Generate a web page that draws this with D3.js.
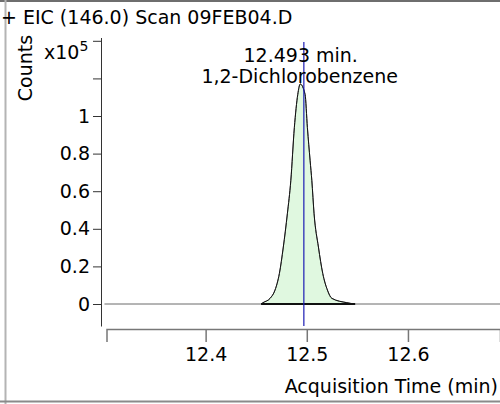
<!DOCTYPE html>
<html>
<head>
<meta charset="utf-8">
<script src="https://cdn.jsdelivr.net/npm/d3@7"></script>
<style>
  html, body { margin: 0; padding: 0; background: #fff; }
  svg { display: block; font-family: "DejaVu Sans", Verdana, sans-serif; }
</style>
</head>
<body>
<svg id="chart" width="500" height="404"></svg>
<script>
// ---------- data ----------
const titleText = "+ EIC (146.0) Scan 09FEB04.D";
const yAxisTitle = "Counts";
const yExponent = "5";
const xAxisTitle = "Acquisition Time (min)";
const xTickValues = [12.4, 12.5, 12.6];
const yTickValues = [0, 0.2, 0.4, 0.6, 0.8, 1, 1.2, 1.4];
const yTickLabels = ["0", "0.2", "0.4", "0.6", "0.8", "1", "", ""];
const xDomain = [12.302, 12.691];
const yDomain = [-0.117, 1.4176];

// trace (time in min, counts x10^5)
const traceTime  = [12.300, 12.4548, 12.4567, 12.4637, 12.4686, 12.4729, 12.4768, 12.4808, 12.4842, 12.4877, 12.4911, 12.4935, 12.4983, 12.5006, 12.5033, 12.5050, 12.5072, 12.5115, 12.5158, 12.5204, 12.5248, 12.5396, 12.5478, 12.691];
const traceCount = [0,      0,       0.007,   0.030,   0.074,   0.162,   0.303,   0.480,   0.656,   0.938,   1.115,   1.170,   1.115,   0.938,   0.762,   0.656,   0.480,   0.303,   0.162,   0.074,   0.030,   0.007,   0,       0];
const peakStart = 12.4548, peakEnd = 12.5478;
const peakRT = 12.493;
const peakLabel = ["12.493 min.", "1,2-Dichlorobenzene"];
const markerTime = 12.4971;
const markerTop = 1.393;

// ---------- drawing ----------
const FS = 19;
const svg = d3.select("#chart");
const x = d3.scaleLinear().domain(xDomain).range([106.5, 500]);
const y = d3.scaleLinear().domain(yDomain).range([326, 37.5]);

// frame
svg.append("line").attr("x1", 0).attr("x2", 500).attr("y1", 1).attr("y2", 1)
  .attr("stroke", "#6e6e6e").attr("stroke-width", 2);
svg.append("line").attr("x1", 5.5).attr("x2", 5.5).attr("y1", 0).attr("y2", 404)
  .attr("stroke", "#b4b4b4").attr("stroke-width", 2);
svg.append("line").attr("x1", 0).attr("x2", 500).attr("y1", 401.5).attr("y2", 401.5)
  .attr("stroke", "#8a8a8a").attr("stroke-width", 2);

const pts = traceTime.map((t, i) => [t, traceCount[i]]);
const peakPts = pts.filter(d => d[0] >= peakStart && d[0] <= peakEnd);

// peak fill
svg.append("path")
  .datum(peakPts)
  .attr("fill", "#e0f8e0")
  .attr("stroke", "none")
  .attr("d", d3.area().x(d => x(d[0])).y0(y(0)).y1(d => y(d[1])).curve(d3.curveMonotoneX));

// full trace (baseline gray)
svg.append("path")
  .datum(pts)
  .attr("fill", "none")
  .attr("stroke", "#6a6a6a")
  .attr("stroke-width", 1)
  .attr("d", d3.line().x(d => x(d[0])).y(d => y(d[1])).curve(d3.curveMonotoneX));

// peak outline
svg.append("path")
  .datum(peakPts)
  .attr("fill", "none")
  .attr("stroke", "#111")
  .attr("stroke-width", 1)
  .attr("d", d3.line().x(d => x(d[0])).y(d => y(d[1])).curve(d3.curveMonotoneX));

// integration baseline
svg.append("line")
  .attr("x1", x(peakStart)).attr("x2", x(peakEnd))
  .attr("y1", y(0)).attr("y2", y(0))
  .attr("stroke", "#111").attr("stroke-width", 2);

// marker line
svg.append("line")
  .attr("x1", x(markerTime)).attr("x2", x(markerTime))
  .attr("y1", y(markerTop)).attr("y2", y(yDomain[0]))
  .attr("stroke", "#1c1cb4").attr("stroke-width", 1.2);

// y axis
const yAxis = d3.axisLeft(y).tickValues(yTickValues)
  .tickFormat((d, i) => yTickLabels[i]).tickSizeInner(8).tickSizeOuter(0).tickPadding(3);
const gy = svg.append("g").attr("transform", "translate(101,0)").call(yAxis);
gy.selectAll("path,line").attr("stroke", "#333");
gy.selectAll("text").attr("font-size", FS).attr("font-family", "DejaVu Sans").attr("fill", "#000");

// x axis
const xAxis = d3.axisBottom(x).tickValues(xTickValues)
  .tickFormat(d3.format(".1f")).tickSizeInner(13).tickSizeOuter(13).tickPadding(6);
const gx = svg.append("g").attr("transform", "translate(0,329)").call(xAxis);
gx.selectAll("path,line").attr("stroke", "#777").attr("stroke-width", 1.5);
gx.selectAll("text").attr("font-size", FS).attr("font-family", "DejaVu Sans").attr("fill", "#000");

// titles
svg.append("text").attr("x", 1).attr("y", 24).attr("font-size", FS).text(titleText);
svg.append("text").attr("x", 498).attr("y", 393).attr("text-anchor", "end")
  .attr("font-size", FS).text(xAxisTitle);
svg.append("text").attr("transform", "translate(31.5,68) rotate(-90)")
  .attr("text-anchor", "middle").attr("font-size", FS).text(yAxisTitle);
const ex = svg.append("text").attr("x", 44).attr("y", 59).attr("font-size", FS);
ex.append("tspan").text("x10");
ex.append("tspan").attr("dy", -8).attr("font-size", 14).text(yExponent);

// peak annotation
svg.append("text").attr("x", x(peakRT) + 1).attr("y", 62).attr("text-anchor", "middle")
  .attr("font-size", FS).text(peakLabel[0]);
svg.append("text").attr("x", x(peakRT)).attr("y", 83).attr("text-anchor", "middle")
  .attr("font-size", FS).text(peakLabel[1]);
</script>
</body>
</html>
